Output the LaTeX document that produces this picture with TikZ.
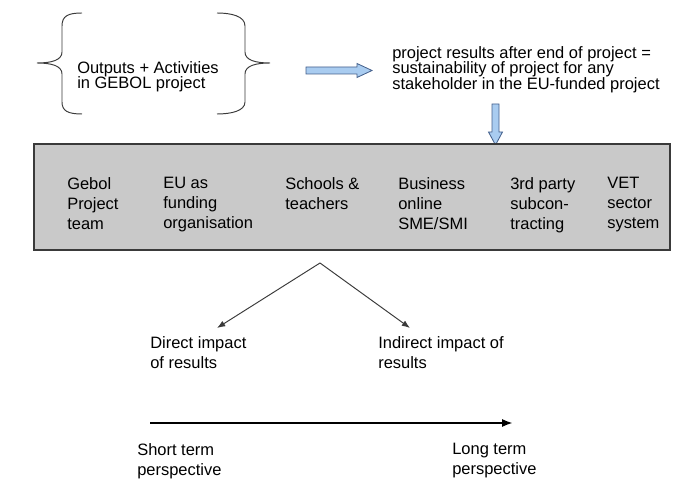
\documentclass[tikz,border=0pt]{standalone}
\usepackage{fontspec}
\setmainfont{Liberation Sans}
\usetikzlibrary{arrows.meta}
\definecolor{boxgray}{HTML}{C9C9C9}
\definecolor{arrowfill}{HTML}{A9CCF0}
\definecolor{arrowline}{HTML}{44608C}
\definecolor{inkgray}{HTML}{3A3A3A}

\begin{document}
\begin{tikzpicture}[x=0.0256cm,y=-0.0256cm,
    txt/.style={inner sep=0pt,anchor=north west,align=left,font=\fontsize{12}{14.5}\selectfont},
    tighttxt/.style={txt,font=\fontsize{12}{11.5}\selectfont},
    bluearrow/.style={draw=arrowline,fill=arrowfill,line width=0.6pt,line join=miter},
    thinarrow/.style={draw=inkgray,line width=0.7pt,-{Latex[length=6pt,width=4.5pt]}}]
        \useasboundingbox (0,0) rectangle (690,480);

         % outputs in braces
        \draw[inkgray,line width=0.7pt] (82,13) .. controls (68,13) and (62,16) .. (62,26) -- (62,52)
            .. controls (62,60) and (52,63) .. (37,63) .. controls (52,63) and (62,66) .. (62,74)
            -- (62,102) .. controls (62,111) and (68,114) .. (82,114);
        \draw[inkgray,line width=0.7pt] (217,13) .. controls (231,13) and (245,16) .. (245,26) -- (245,52)
            .. controls (245,60) and (255,63) .. (270,63) .. controls (255,63) and (245,66) .. (245,74)
            -- (245,102) .. controls (245,111) and (231,114) .. (217,114);
        \node (outputs) [tighttxt] at (77,61) {Outputs + Activities\\in GEBOL project};

         % results
        \filldraw[bluearrow] (306,67) -- (357,67) -- (357,63.5) -- (372,70.5) -- (357,77.5) -- (357,74) -- (306,74) -- cycle;
        \node (results) [tighttxt] at (392,46) {project results after end of project =\\sustainability of project for any\\stakeholder in the EU-funded project};
        \filldraw[bluearrow] (492,104) -- (499,104) -- (499,132) -- (502.5,132) -- (495.5,145) -- (488.5,132) -- (492,132) -- cycle;

         % stakeholders
        \node (stakeholders) [draw=inkgray,fill=boxgray,line width=0.9pt,minimum width=16.28cm,minimum height=2.71cm] at (352,197) {};
        \node (gebol) [txt] at (67,177) {Gebol\\Project\\team};
        \node (eu) [txt] at (163,177) {EU as\\funding\\organisation};
        \node (schools) [txt] at (285,177) {Schools \&\\teachers};
        \node (business) [txt] at (398,177) {Business\\online\\SME/SMI};
        \node (thirdparty) [txt] at (510,177) {3rd party\\subcon-\\tracting};
        \node (vet) [txt] at (607,177) {VET\\sector\\system};

         % impact
        \coordinate (apex) at (320,263);
        \coordinate (dtip) at (217,328);
        \coordinate (itip) at (410,328);
        \draw[thinarrow] (apex) -- (dtip);
        \draw[thinarrow] (apex) -- (itip);
        \node (direct) [txt] at (150,336) {Direct impact\\of results};
        \node (indirect) [txt] at (378,336) {Indirect impact of\\results};

         % time line
        \coordinate (tstart) at (150,423);
        \coordinate (tend) at (513,423);
        \draw[line width=1.9pt,-{Latex[length=8pt,width=6pt]}] (tstart) -- (tend);
        \node (shortterm) [txt] at (137,443) {Short term\\perspective};
        \node (longterm) [txt] at (452,443) {Long term\\perspective};
      \end{tikzpicture}
\end{document}
